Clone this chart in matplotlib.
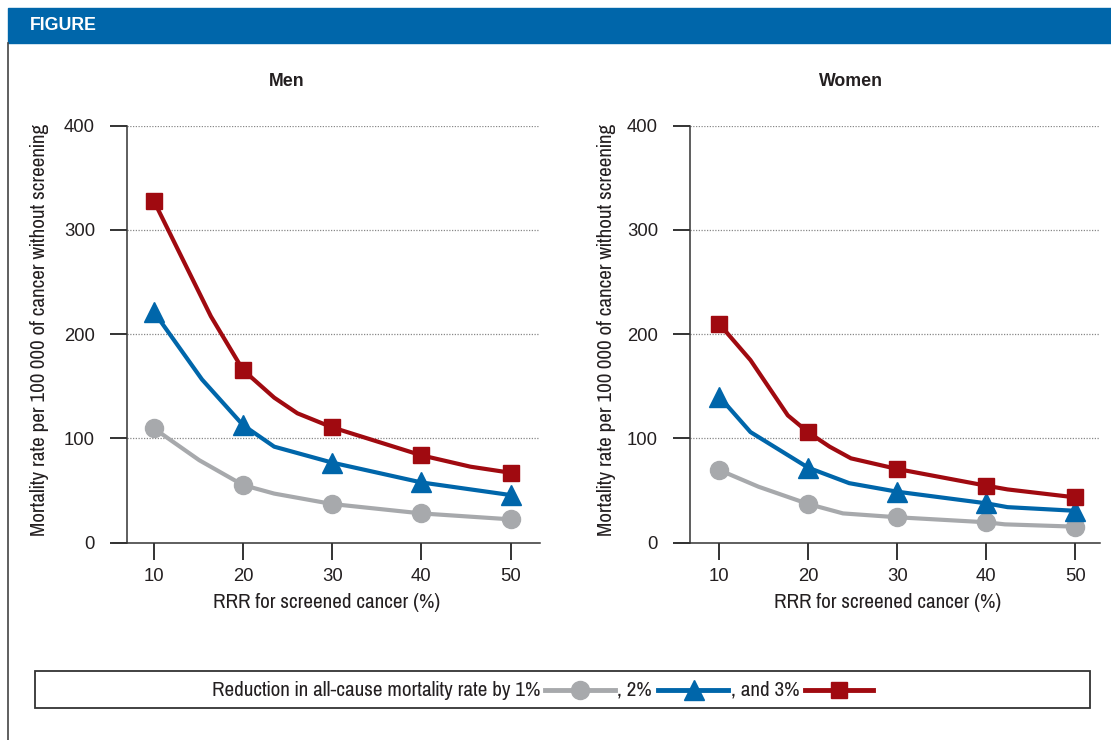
import matplotlib.pyplot as plt
from matplotlib.patches import Rectangle
from matplotlib.lines import Line2D

plt.rcParams['font.family'] = ['Pragati Narrow', 'Roboto Condensed', 'Archivo Narrow', 'DejaVu Sans']
wide = ['Liberation Sans', 'DejaVu Sans']

# marker values
rrr = [10, 20, 30, 40, 50]
men_1 = [109.6, 55.2, 37.0, 28.0, 22.3]
men_2 = [221.4, 112.7, 76.7, 57.7, 45.6]
men_3 = [327.8, 165.6, 110.5, 83.7, 67.0]
women_1 = [69.6, 37.0, 24.3, 19.5, 15.3]
women_2 = [139.9, 71.8, 48.8, 37.7, 30.5]
women_3 = [209.6, 105.7, 70.6, 54.6, 43.4]

# line paths incl. the visible kinks between markers
men_1_x = [10, 15.1, 20, 23.5, 30, 40, 50]
men_1_y = [109.6, 79, 55.2, 47, 37.0, 28.0, 22.3]
men_2_x = [10, 15.4, 20, 23.5, 30, 40, 50]
men_2_y = [221.4, 156.5, 112.7, 92, 76.7, 57.7, 45.6]
men_3_x = [10, 16.4, 20, 23.5, 26.1, 30, 40, 45.5, 50]
men_3_y = [327.8, 217, 165.6, 139, 124, 110.5, 83.7, 72.8, 67.0]
women_1_x = [10, 14.4, 20, 23.9, 30, 40, 42.1, 50]
women_1_y = [69.6, 53.6, 37.0, 28, 24.3, 19.5, 17.5, 15.3]
women_2_x = [10, 13.5, 20, 24.6, 30, 40, 42.4, 50]
women_2_y = [139.9, 106, 71.8, 57, 48.8, 37.7, 34, 30.5]
women_3_x = [10, 13.5, 17.7, 20, 22.4, 24.8, 30, 40, 42.4, 50]
women_3_y = [209.6, 175, 122, 105.7, 92, 80.8, 70.6, 54.6, 51, 43.4]

grey = '#A7A9AC'
blue = '#0066AA'
red = '#A00A10'
txt = '#231F20'

fig = plt.figure(figsize=(11.11, 7.40), dpi=100)
W, H = 1111, 740

def fx(px):
    return px / W

def fy(py):
    return 1 - py / H

# header bar
fig.patches.append(Rectangle((fx(8), fy(43)), 1 - fx(8), (43 - 8) / H,
                             transform=fig.transFigure, color=blue, zorder=0))
fig.text(fx(30), fy(26), 'FIGURE', color='white', fontsize=12.8, fontweight='bold',
         va='center', ha='left', family=wide)
fig.lines.append(Line2D([fx(8), fx(8)], [fy(43), fy(740)], transform=fig.transFigure,
                        color='#444444', lw=1.2))

panels = [
    ('Men', 127, 540, 287, 40, [(men_1_x, men_1_y, men_1), (men_2_x, men_2_y, men_2), (men_3_x, men_3_y, men_3)], 7.0, 53.3),
    ('Women', 690, 1100, 851, 606, [(women_1_x, women_1_y, women_1), (women_2_x, women_2_y, women_2), (women_3_x, women_3_y, women_3)], 6.7, 52.8),
]
styles = [(grey, 'o', 13), (blue, '^', 14), (red, 's', 12)]

for title, left, right, tx, lx, series, x0, x1 in panels:
    ax = fig.add_axes([fx(left - 14), fy(542.6), (right - left + 14) / W, (542.6 - 125.5) / H])
    xmin = x0 - 14 / 8.9
    ax.set_xlim(xmin, x1)
    ax.set_ylim(0, 400)
    for (lxs, lys, mys), (c, m, ms) in zip(series, styles):
        ax.plot(lxs, lys, color=c, lw=3, solid_joinstyle='round', zorder=3)
        ax.plot(rrr, mys, ls='none', marker=m, ms=ms, color=c, mec=c, zorder=4)
    ax.hlines([100, 200, 300, 400], x0, x1, colors='#888888', lw=0.9, linestyles=(0, (1, 1.2)), zorder=1)
    for s in ['top', 'right']:
        ax.spines[s].set_visible(False)
    ax.spines['left'].set_position(('data', x0))
    ax.spines['left'].set_bounds(0, 400)
    for s in ['left', 'bottom']:
        ax.spines[s].set_color('#333333')
        ax.spines[s].set_linewidth(1.1)
    ax.set_xticks(rrr)
    ax.set_yticks([0, 100, 200, 300, 400])
    ax.tick_params(axis='both', direction='out', length=12, width=1.4, color='#333333',
                   labelsize=13.3, labelcolor=txt)
    ax.tick_params(axis='y', pad=11)
    ax.tick_params(axis='x', pad=6)
    for lab in ax.get_xticklabels() + ax.get_yticklabels():
        lab.set_family(wide)
    ax.set_xlabel('RRR for screened cancer (%)', fontsize=16.5, color=txt, labelpad=6)
    ax.patch.set_alpha(0)
    fig.text(fx(tx), fy(81), title, fontsize=12.8, fontweight='bold', ha='center', va='center',
             color=txt, family=wide)
    fig.text(fx(lx), fy(330), 'Mortality rate per 100\u2009000 of cancer without screening', rotation=90,
             fontsize=16.5, ha='center', va='center', color=txt)

# legend box
fig.patches.append(Rectangle((fx(35), fy(708)), (1090 - 35) / W, (708 - 671) / H,
                             transform=fig.transFigure, fill=False, ec='#333333', lw=1.3))
ly = fy(690)
fig.text(fx(540), ly, 'Reduction in all-cause mortality rate by 1%', ha='right', va='center',
         fontsize=16.5, color=txt)
fig.lines.append(Line2D([fx(545), fx(615)], [ly, ly], transform=fig.transFigure, color=grey, lw=3.5))
fig.lines.append(Line2D([fx(580)], [ly], transform=fig.transFigure, color=grey, marker='o', ms=13, ls='none'))
fig.text(fx(617), ly, ', 2%', ha='left', va='center', fontsize=16.5, color=txt)
fig.lines.append(Line2D([fx(658), fx(728)], [ly, ly], transform=fig.transFigure, color=blue, lw=3.5))
fig.lines.append(Line2D([fx(694)], [ly], transform=fig.transFigure, color=blue, marker='^', ms=14, ls='none'))
fig.text(fx(731), ly, ', and 3%', ha='left', va='center', fontsize=16.5, color=txt)
fig.lines.append(Line2D([fx(805), fx(873)], [ly, ly], transform=fig.transFigure, color=red, lw=3.5))
fig.lines.append(Line2D([fx(839)], [ly], transform=fig.transFigure, color=red, marker='s', ms=12, ls='none'))

fig.savefig('out.png', dpi=100)
